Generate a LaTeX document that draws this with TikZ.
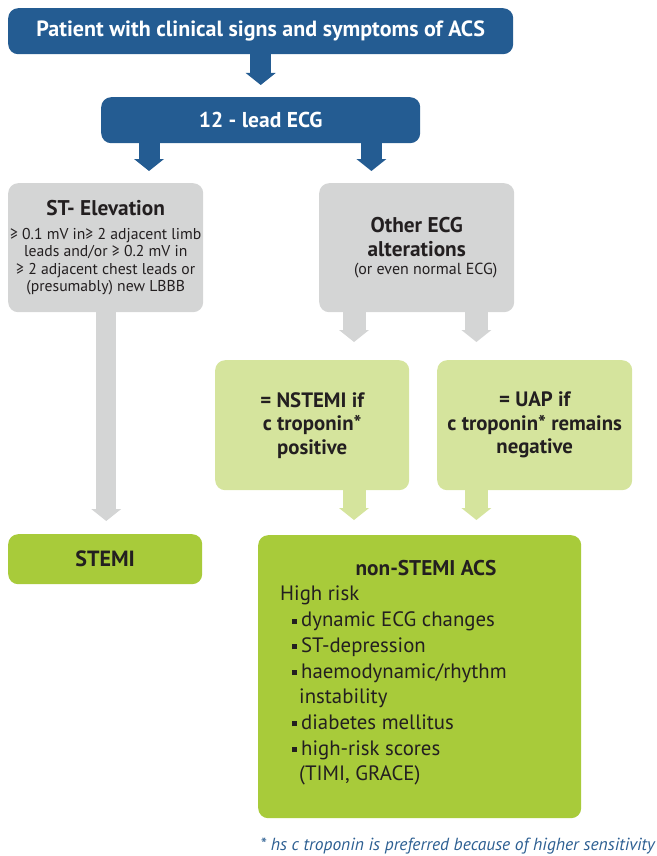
\documentclass[tikz,border=0pt]{standalone}
\usepackage{fontspec}
\setmainfont{PT Sans}
\usetikzlibrary{arrows.meta,calc}
\definecolor{acsblue}{HTML}{245C92}
\definecolor{acsgray}{HTML}{D4D5D5}
\definecolor{acslight}{HTML}{D5E49D}
\definecolor{acsgreen}{HTML}{A8CB3A}
\definecolor{acstext}{HTML}{231F20}
\definecolor{acsnote}{HTML}{2D5F92}
\newcommand\acshead{\bfseries\fontsize{21.3}{23}\selectfont}
\newcommand\acsbul{\rule[3pt]{4.5pt}{5pt}\hspace{4.5pt}}
\begin{document}
\begin{tikzpicture}[x=1pt,y=-1pt,
  box/.style={rounded corners=10pt, inner sep=0pt, align=center, anchor=north west, text=acstext},
  bluebox/.style={box, fill=acsblue, text=white},
  graybox/.style={box, fill=acsgray},
  lightbox/.style={box, fill=acslight, font=\bfseries\fontsize{20.8}{23.5}\selectfont},
  greenbox/.style={box, fill=acsgreen},
  blockarrow/.style={line width=21pt, -{Triangle[width=30pt,length=12pt,line width=0pt]}},
]
\path[use as bounding box] (0,0) rectangle (656,856);

\node[bluebox, minimum width=505pt, minimum height=46pt, font=\bfseries\fontsize{22}{24}\selectfont] (pat) at (8,8) {Patient with clinical signs and symptoms of ACS};
\node[bluebox, minimum width=319pt, minimum height=46pt, font=\bfseries\fontsize{21.5}{24}\selectfont] (ecg) at (101,97) {12 - lead ECG};

\node[graybox, minimum width=195pt, minimum height=129pt, font=\fontsize{15.7}{17.4}\selectfont] (st) at (8,183)
  {\acshead ST- Elevation\\[6.5pt]
   ≥ 0.1 mV in≥ 2 adjacent limb\\
   leads and/or ≥ 0.2 mV in\\
   ≥ 2 adjacent chest leads or\\
   (presumably) new LBBB};
\node[graybox, minimum width=195pt, minimum height=129pt, font=\fontsize{16}{18}\selectfont] (oth) at (319,183)
  {\acshead Other ECG\\[6pt]
   \acshead alterations\\
   \hspace*{18pt}(or even normal ECG)};

\node[lightbox, minimum width=194pt, minimum height=130pt] (nst) at (215,360)
  {= NSTEMI if\\ c troponin*\\ positive};
\node[lightbox, minimum width=195pt, minimum height=130pt] (uap) at (437,360)
  {= UAP if\\ c troponin* remains\\ negative};

\node[greenbox, minimum width=194pt, minimum height=50pt, font=\bfseries\fontsize{22}{24}\selectfont] (stemi) at (8,534) {STEMI};
\node[greenbox, minimum width=323pt, minimum height=283pt] (nsacs) at (258,535) {};
\node[text=acstext, font=\acshead, anchor=base] (nshead) at (426,575) {non-STEMI ACS};
\node[text=acstext, align=left, anchor=north west, inner sep=0pt, font=\fontsize{20.8}{25.7}\selectfont] (risk) at (280,586)
  {High risk\\
   \hspace*{12pt}\acsbul dynamic ECG changes\\
   \hspace*{12pt}\acsbul ST-depression\\
   \hspace*{12pt}\acsbul haemodynamic/rhythm\\
   \hspace*{19pt}instability\\
   \hspace*{12pt}\acsbul diabetes mellitus\\
   \hspace*{12pt}\acsbul high-risk scores\\
   \hspace*{19pt}(TIMI, GRACE)};
\node[text=acsnote, anchor=base east, inner sep=0pt, font=\itshape\fontsize{17.5}{18}\selectfont] (note) at (655,850)
  {* hs c troponin is preferred because of higher sensitivity};

% connectors
\draw[blockarrow, draw=acsblue, shorten >=12pt] (pat.south) -- (ecg.north);
\coordinate (eL) at ($(ecg.south west)+(48,0)$);
\coordinate (eR) at ($(ecg.south east)+(-49,0)$);
\draw[blockarrow, draw=acsblue, shorten >=12pt] (eL) -- (eL |- st.north);
\draw[blockarrow, draw=acsblue, shorten >=12pt] (eR) -- (eR |- oth.north);
\coordinate (sL) at ($(st.south)+(0.5,0)$);
\draw[blockarrow, line width=20pt, draw=acsgray, shorten >=13pt] (sL) -- (sL |- stemi.north);
\coordinate (oL) at ($(oth.south west)+(35,0)$);
\coordinate (oR) at ($(oth.south east)+(-38,0)$);
\draw[blockarrow, line width=23pt, draw=acsgray, shorten >=18pt] (oL) -- (oL |- nst.north);
\draw[blockarrow, line width=23pt, draw=acsgray, shorten >=18pt] (oR) -- (oR |- uap.north);
\coordinate (nL) at (oL |- nst.south);
\coordinate (nR) at (oR |- uap.south);
\draw[blockarrow, line width=23pt, draw=acslight, shorten >=15pt] (nL) -- (nL |- nsacs.north);
\draw[blockarrow, line width=23pt, draw=acslight, shorten >=15pt] (nR) -- (nR |- nsacs.north);
\end{tikzpicture}
\end{document}
